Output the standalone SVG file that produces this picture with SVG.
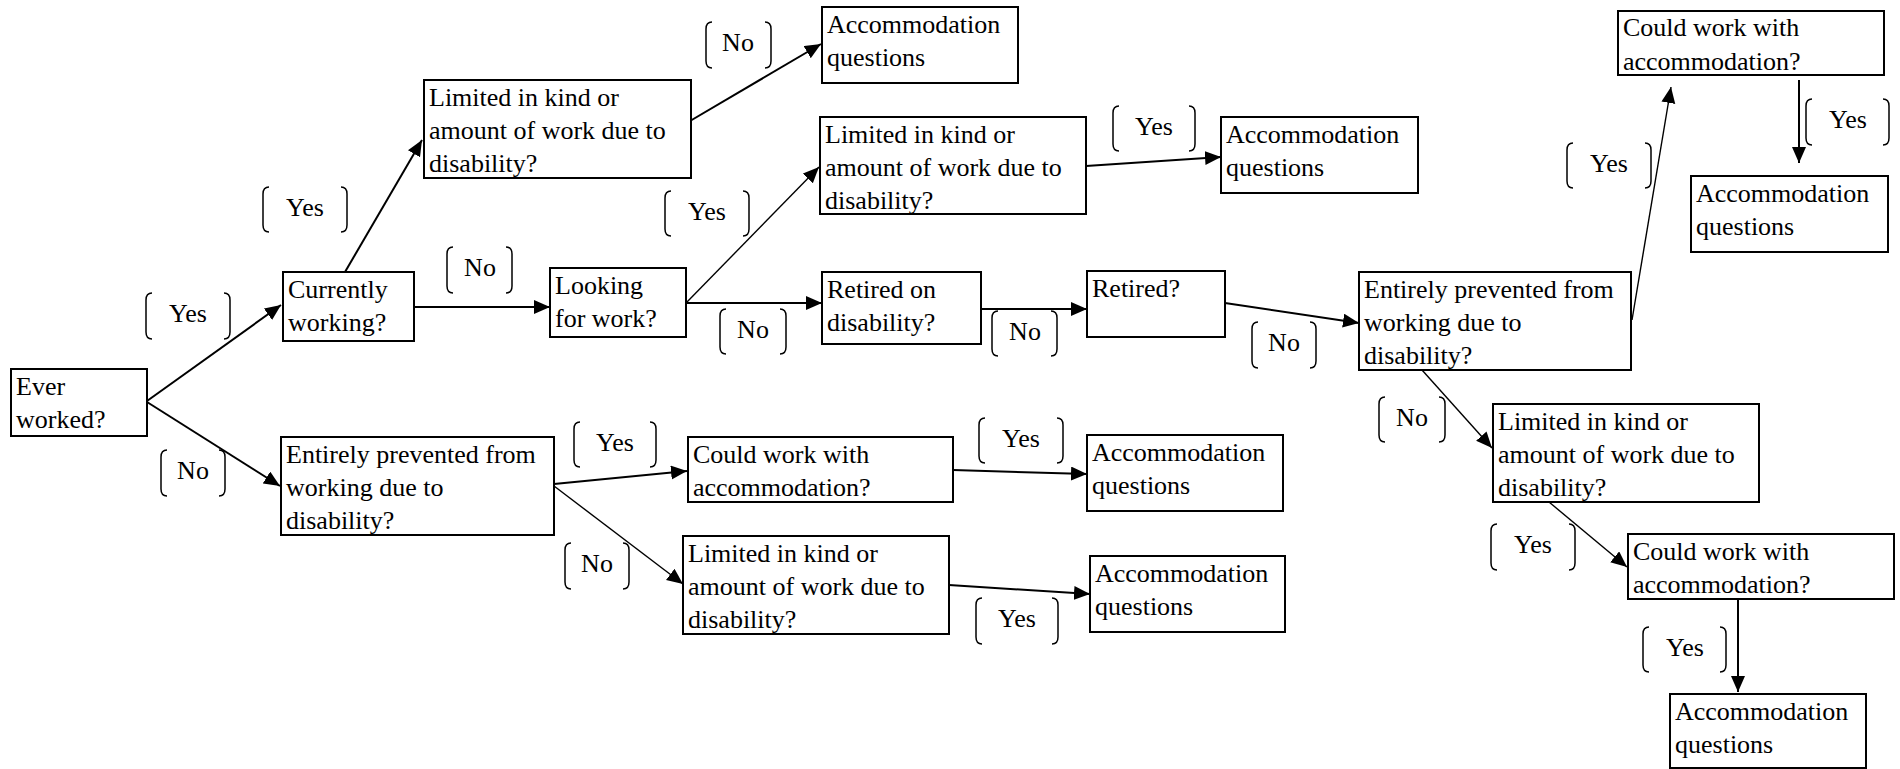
<svg xmlns="http://www.w3.org/2000/svg" width="1900" height="769" viewBox="0 0 1900 769">
<style>
.box{fill:#fff;stroke:#000;stroke-width:2}
.t{font-family:"Liberation Serif","Times New Roman",serif;font-size:26px;fill:#000}
.lbl{font-family:"Liberation Serif","Times New Roman",serif;font-size:26px;fill:#000;text-anchor:middle}
.br{fill:none;stroke:#000;stroke-width:1.5}
.c{fill:none;stroke:#000;stroke-width:2;marker-end:url(#ah)}
.c2{fill:none;stroke:#000;stroke-width:1.4;marker-end:url(#ah)}
</style>
<defs>
<marker id="ah" markerUnits="userSpaceOnUse" markerWidth="17" markerHeight="15" refX="16" refY="7" orient="auto">
<path d="M0,0 L16,7 L0,14 z" fill="#000"/>
</marker>
</defs>
<rect width="1900" height="769" fill="#fff"/>
<g id="connectors">
<line class="c" x1="147" y1="401" x2="281" y2="305"/>
<line class="c" x1="345" y1="272" x2="422" y2="140"/>
<line class="c" x1="414" y1="307" x2="550" y2="307"/>
<line class="c" x1="690" y1="121" x2="821" y2="44"/>
<line class="c2" x1="687" y1="302" x2="819" y2="167"/>
<line class="c" x1="1086" y1="166" x2="1221" y2="157"/>
<line class="c" x1="687" y1="303" x2="822" y2="303"/>
<line class="c" x1="981" y1="309" x2="1087" y2="309"/>
<line class="c" x1="1225" y1="303" x2="1359" y2="323"/>
<line class="c2" x1="1632" y1="320" x2="1671" y2="87"/>
<line class="c" x1="1799" y1="80" x2="1799" y2="163"/>
<line class="c2" x1="1422" y1="370" x2="1492" y2="448"/>
<line class="c2" x1="1549" y1="502" x2="1627" y2="567"/>
<line class="c" x1="1738" y1="599" x2="1738" y2="692"/>
<line class="c" x1="147" y1="402" x2="280" y2="486"/>
<line class="c" x1="554" y1="484" x2="687" y2="471"/>
<line class="c2" x1="554" y1="486" x2="683" y2="584"/>
<line class="c" x1="953" y1="470" x2="1087" y2="474"/>
<line class="c" x1="949" y1="585" x2="1090" y2="594"/>
</g>
<g id="labels">
<g><path class="br" d="M152,293 Q146,293 146,300 L146,332 Q146,339 152,339 M224,293 Q230,293 230,300 L230,332 Q230,339 224,339"/><text class="lbl" x="188" y="322">Yes</text></g>
<g><path class="br" d="M269,187 Q263,187 263,194 L263,225 Q263,232 269,232 M341,187 Q347,187 347,194 L347,225 Q347,232 341,232"/><text class="lbl" x="305" y="216">Yes</text></g>
<g><path class="br" d="M453,247 Q447,247 447,254 L447,286 Q447,293 453,293 M506,247 Q512,247 512,254 L512,286 Q512,293 506,293"/><text class="lbl" x="480" y="276">No</text></g>
<g><path class="br" d="M712,22 Q706,22 706,29 L706,61 Q706,68 712,68 M765,22 Q771,22 771,29 L771,61 Q771,68 765,68"/><text class="lbl" x="738" y="51">No</text></g>
<g><path class="br" d="M671,191 Q665,191 665,198 L665,229 Q665,236 671,236 M743,191 Q749,191 749,198 L749,229 Q749,236 743,236"/><text class="lbl" x="707" y="220">Yes</text></g>
<g><path class="br" d="M1119,106 Q1113,106 1113,113 L1113,144 Q1113,151 1119,151 M1189,106 Q1195,106 1195,113 L1195,144 Q1195,151 1189,151"/><text class="lbl" x="1154" y="135">Yes</text></g>
<g><path class="br" d="M726,309 Q720,309 720,316 L720,347 Q720,354 726,354 M780,309 Q786,309 786,316 L786,347 Q786,354 780,354"/><text class="lbl" x="753" y="338">No</text></g>
<g><path class="br" d="M998,311 Q992,311 992,318 L992,349 Q992,356 998,356 M1051,311 Q1057,311 1057,318 L1057,349 Q1057,356 1051,356"/><text class="lbl" x="1025" y="340">No</text></g>
<g><path class="br" d="M1258,322 Q1252,322 1252,329 L1252,361 Q1252,368 1258,368 M1310,322 Q1316,322 1316,329 L1316,361 Q1316,368 1310,368"/><text class="lbl" x="1284" y="351">No</text></g>
<g><path class="br" d="M1573,143 Q1567,143 1567,150 L1567,181 Q1567,188 1573,188 M1645,143 Q1651,143 1651,150 L1651,181 Q1651,188 1645,188"/><text class="lbl" x="1609" y="172">Yes</text></g>
<g><path class="br" d="M1812,99 Q1806,99 1806,106 L1806,138 Q1806,145 1812,145 M1883,99 Q1889,99 1889,106 L1889,138 Q1889,145 1883,145"/><text class="lbl" x="1848" y="128">Yes</text></g>
<g><path class="br" d="M167,450 Q161,450 161,457 L161,489 Q161,496 167,496 M219,450 Q225,450 225,457 L225,489 Q225,496 219,496"/><text class="lbl" x="193" y="479">No</text></g>
<g><path class="br" d="M580,422 Q574,422 574,429 L574,460 Q574,467 580,467 M650,422 Q656,422 656,429 L656,460 Q656,467 650,467"/><text class="lbl" x="615" y="451">Yes</text></g>
<g><path class="br" d="M571,543 Q565,543 565,550 L565,582 Q565,589 571,589 M623,543 Q629,543 629,550 L629,582 Q629,589 623,589"/><text class="lbl" x="597" y="572">No</text></g>
<g><path class="br" d="M985,418 Q979,418 979,425 L979,456 Q979,463 985,463 M1057,418 Q1063,418 1063,425 L1063,456 Q1063,463 1057,463"/><text class="lbl" x="1021" y="447">Yes</text></g>
<g><path class="br" d="M982,598 Q976,598 976,605 L976,637 Q976,644 982,644 M1052,598 Q1058,598 1058,605 L1058,637 Q1058,644 1052,644"/><text class="lbl" x="1017" y="627">Yes</text></g>
<g><path class="br" d="M1385,397 Q1379,397 1379,404 L1379,435 Q1379,442 1385,442 M1439,397 Q1445,397 1445,404 L1445,435 Q1445,442 1439,442"/><text class="lbl" x="1412" y="426">No</text></g>
<g><path class="br" d="M1497,524 Q1491,524 1491,531 L1491,563 Q1491,570 1497,570 M1569,524 Q1575,524 1575,531 L1575,563 Q1575,570 1569,570"/><text class="lbl" x="1533" y="553">Yes</text></g>
<g><path class="br" d="M1649,627 Q1643,627 1643,634 L1643,665 Q1643,672 1649,672 M1720,627 Q1726,627 1726,634 L1726,665 Q1726,672 1720,672"/><text class="lbl" x="1685" y="656">Yes</text></g>
</g>
<g id="ever"><rect class="box" x="11" y="369" width="136" height="67"/><text class="t" x="16" y="395">Ever</text><text class="t" x="16" y="428">worked?</text></g>
<g id="currently"><rect class="box" x="283" y="272" width="131" height="69"/><text class="t" x="288" y="298">Currently</text><text class="t" x="288" y="331">working?</text></g>
<g id="limitedA"><rect class="box" x="424" y="80" width="267" height="98"/><text class="t" x="429" y="106">Limited in kind or</text><text class="t" x="429" y="139">amount of work due to</text><text class="t" x="429" y="172">disability?</text></g>
<g id="accomA"><rect class="box" x="822" y="7" width="196" height="76"/><text class="t" x="827" y="33">Accommodation</text><text class="t" x="827" y="66">questions</text></g>
<g id="looking"><rect class="box" x="550" y="268" width="136" height="69"/><text class="t" x="555" y="294">Looking</text><text class="t" x="555" y="327">for work?</text></g>
<g id="limitedB"><rect class="box" x="820" y="117" width="266" height="97"/><text class="t" x="825" y="143">Limited in kind or</text><text class="t" x="825" y="176">amount of work due to</text><text class="t" x="825" y="209">disability?</text></g>
<g id="accomB"><rect class="box" x="1221" y="117" width="197" height="76"/><text class="t" x="1226" y="143">Accommodation</text><text class="t" x="1226" y="176">questions</text></g>
<g id="retiredOn"><rect class="box" x="822" y="272" width="159" height="72"/><text class="t" x="827" y="298">Retired on</text><text class="t" x="827" y="331">disability?</text></g>
<g id="retired"><rect class="box" x="1087" y="271" width="138" height="66"/><text class="t" x="1092" y="297">Retired?</text></g>
<g id="entirelyR"><rect class="box" x="1359" y="272" width="272" height="98"/><text class="t" x="1364" y="298">Entirely prevented from</text><text class="t" x="1364" y="331">working due to</text><text class="t" x="1364" y="364">disability?</text></g>
<g id="couldTop"><rect class="box" x="1618" y="11" width="266" height="64"/><text class="t" x="1623" y="36">Could work with</text><text class="t" x="1623" y="70">accommodation?</text></g>
<g id="accomR"><rect class="box" x="1691" y="176" width="197" height="76"/><text class="t" x="1696" y="202">Accommodation</text><text class="t" x="1696" y="235">questions</text></g>
<g id="limitedR"><rect class="box" x="1493" y="404" width="266" height="98"/><text class="t" x="1498" y="430">Limited in kind or</text><text class="t" x="1498" y="463">amount of work due to</text><text class="t" x="1498" y="496">disability?</text></g>
<g id="couldR"><rect class="box" x="1628" y="534" width="266" height="65"/><text class="t" x="1633" y="560">Could work with</text><text class="t" x="1633" y="593">accommodation?</text></g>
<g id="accomBottom"><rect class="box" x="1670" y="694" width="196" height="74"/><text class="t" x="1675" y="720">Accommodation</text><text class="t" x="1675" y="753">questions</text></g>
<g id="entirelyBL"><rect class="box" x="281" y="437" width="273" height="98"/><text class="t" x="286" y="463">Entirely prevented from</text><text class="t" x="286" y="496">working due to</text><text class="t" x="286" y="529">disability?</text></g>
<g id="couldB"><rect class="box" x="688" y="437" width="265" height="65"/><text class="t" x="693" y="463">Could work with</text><text class="t" x="693" y="496">accommodation?</text></g>
<g id="accomC"><rect class="box" x="1087" y="435" width="196" height="76"/><text class="t" x="1092" y="461">Accommodation</text><text class="t" x="1092" y="494">questions</text></g>
<g id="limitedC"><rect class="box" x="683" y="536" width="266" height="98"/><text class="t" x="688" y="562">Limited in kind or</text><text class="t" x="688" y="595">amount of work due to</text><text class="t" x="688" y="628">disability?</text></g>
<g id="accomD"><rect class="box" x="1090" y="556" width="195" height="76"/><text class="t" x="1095" y="582">Accommodation</text><text class="t" x="1095" y="615">questions</text></g>
</svg>
